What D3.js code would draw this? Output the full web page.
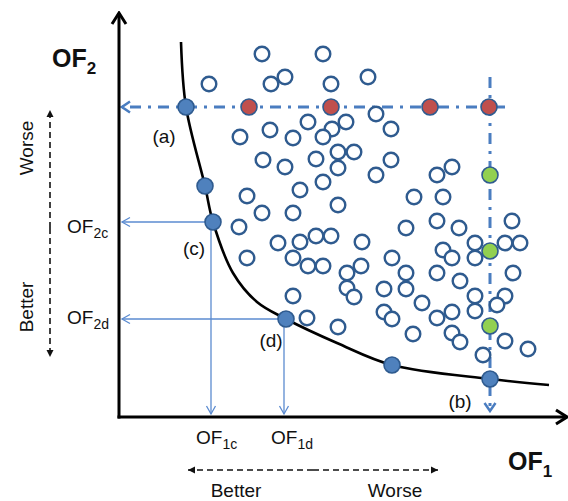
<!DOCTYPE html>
<html>
<head>
<meta charset="utf-8">
<script src="https://cdn.jsdelivr.net/npm/d3@7"></script>
<style>
  body { margin: 0; background: #fff; }
  svg { display: block; font-family: "Liberation Sans", Arial, sans-serif; }
</style>
</head>
<body>
<script>
'use strict';

// objective space values (OF1, OF2)
const dominated = [
  [143,363],[204,363],[90,333],[152,333],[166,340],[212,333],[249,340],
  [121,280],[151,287],[174,279],[189,295],[213,288],[204,280],[227,295],[257,303],[272,288],
  [144,257],[166,250],[197,258],[219,265],[235,265],[219,249],[272,257],[257,242],
  [181,227],[204,235],[128,221],[219,212],[295,220],[318,242],[333,250],[324,220],
  [143,204],[174,204],[120,190],[318,196],[340,189],[287,189],
  [159,174],[181,175],[197,181],[212,181],[243,175],[356,174],[386,174],[401,174],[393,196],
  [128,159],[174,159],[189,151],[204,151],[242,151],[228,144],[273,159],[287,144],
  [228,129],[235,120],[265,128],[287,128],[174,121],[303,114],[265,105],[273,98],
  [188,99],[219,90],[294,83],[324,167],[333,159],[356,159],[318,144],[341,136],[394,144],
  [356,121],[386,121],[378,112],[356,106],[333,105],[318,99],[333,84],[341,75],[386,76],
  [409,68],[364,62]
];
const paretoPoints = [[67,310],[86,231],[94,195],[167,98],[273,52],[371,38]];
const paretoCurve = [[62,375],[67,310],[86,231],[94,195],[114,144],[138,115],[167,98],
  [218,74],[273,52],[371,38],[430,32]];
const redPoints = [[130,310],[212,310],[311,310],[370,310]];
const greenPoints = [[371,242],[371,166],[371,91]];

// labelled solutions
const pointA = [67,310], pointB = [371,38], pointC = [94,195], pointD = [167,98];

// scales
const width = 568, height = 501;
const x = d3.scaleLinear().domain([0, 450]).range([119, 569]);
const y = d3.scaleLinear().domain([0, 405]).range([417, 12]);

const svg = d3.select('body').append('svg')
  .attr('width', width)
  .attr('height', height);

const defs = svg.append('defs');
function vArrow(id, color, w, len, sw) {
  defs.append('marker')
    .attr('id', id)
    .attr('markerUnits', 'userSpaceOnUse')
    .attr('viewBox', `${-len - 2} ${-w - 2} ${len + 4} ${2 * w + 4}`)
    .attr('refX', 0).attr('refY', 0)
    .attr('markerWidth', len + 4).attr('markerHeight', 2 * w + 4)
    .attr('orient', 'auto')
    .append('path')
    .attr('d', `M${-len},${-w}L0,0L${-len},${w}`)
    .attr('fill', 'none')
    .attr('stroke', color)
    .attr('stroke-width', sw)
    .attr('stroke-linejoin', 'miter');
}
function triArrow(id, color) {
  defs.append('marker')
    .attr('id', id)
    .attr('markerUnits', 'userSpaceOnUse')
    .attr('viewBox', '-8 -5 10 10')
    .attr('refX', 0).attr('refY', 0)
    .attr('markerWidth', 10).attr('markerHeight', 10)
    .attr('orient', 'auto')
    .append('path')
    .attr('d', 'M-7,-3.5L0,0L-7,3.5Z')
    .attr('fill', color);
}
vArrow('axisHead', '#000', 7, 11, 3);
vArrow('dashHead', '#4A7DC0', 5.5, 8, 2.5);
vArrow('thinHead', '#5B8BD0', 4.5, 8, 1.3);
triArrow('blackTri', '#111');

// thin guide lines for (c) and (d)
[pointC, pointD].forEach(p => {
  svg.append('line')
    .attr('x1', x(p[0]) - 2).attr('y1', y(p[1]))
    .attr('x2', x(3)).attr('y2', y(p[1]))
    .attr('stroke', '#5B8BD0').attr('stroke-width', 1.3)
    .attr('marker-end', 'url(#thinHead)');
  svg.append('line')
    .attr('x1', x(p[0]) - 2).attr('y1', y(p[1]))
    .attr('x2', x(p[0]) - 2).attr('y2', y(3))
    .attr('stroke', '#5B8BD0').attr('stroke-width', 1.3)
    .attr('marker-end', 'url(#thinHead)');
});

// dash-dot guides through (a) and (b)
svg.append('line')
  .attr('x1', x(386)).attr('y1', y(pointA[1]))
  .attr('x2', x(3)).attr('y2', y(pointA[1]))
  .attr('stroke', '#4A7DC0').attr('stroke-width', 3)
  .attr('stroke-dasharray', '11,7,3,7')
  .attr('marker-end', 'url(#dashHead)');
svg.append('line')
  .attr('x1', x(pointB[0])).attr('y1', y(340))
  .attr('x2', x(pointB[0])).attr('y2', y(6))
  .attr('stroke', '#4A7DC0').attr('stroke-width', 3)
  .attr('stroke-dasharray', '11,7,3,7')
  .attr('marker-end', 'url(#dashHead)');

// pareto front
const line = d3.line()
  .x(d => x(d[0]))
  .y(d => y(d[1]))
  .curve(d3.curveCatmullRom.alpha(0.5));
svg.append('path')
  .attr('d', line(paretoCurve))
  .attr('fill', 'none')
  .attr('stroke', '#000')
  .attr('stroke-width', 2.6);

// dominated solutions
svg.selectAll('.dom')
  .data(dominated)
  .enter()
  .append('circle')
  .attr('class', 'dom')
  .attr('cx', d => x(d[0]))
  .attr('cy', d => y(d[1]))
  .attr('r', 7.3)
  .attr('fill', '#fff')
  .attr('stroke', '#2F5B8F')
  .attr('stroke-width', 2.4);

function filled(data, fill) {
  svg.append('g').selectAll('circle')
    .data(data)
    .enter()
    .append('circle')
    .attr('cx', d => x(d[0]))
    .attr('cy', d => y(d[1]))
    .attr('r', 8)
    .attr('fill', fill)
    .attr('stroke', '#2F5B8F')
    .attr('stroke-width', 1.6);
}
filled(paretoPoints, '#4F81BD');
filled(redPoints, '#C0504D');
filled(greenPoints, '#92D050');

// axes
svg.append('line')
  .attr('x1', x(0)).attr('y1', y(0) + 1.5)
  .attr('x2', x(0)).attr('y2', y(404))
  .attr('stroke', '#000').attr('stroke-width', 3)
  .attr('marker-end', 'url(#axisHead)');
svg.append('line')
  .attr('x1', x(0) - 1.5).attr('y1', y(0))
  .attr('x2', x(448)).attr('y2', y(0))
  .attr('stroke', '#000').attr('stroke-width', 3)
  .attr('marker-end', 'url(#axisHead)');

// axis titles
function label(tx, ty, main, sub, size, subSize, weight, anchor) {
  const t = svg.append('text')
    .attr('x', tx).attr('y', ty)
    .attr('text-anchor', anchor || 'start')
    .style('font-size', size + 'px')
    .style('font-weight', weight || 'normal')
    .attr('fill', '#111');
  t.append('tspan').text(main);
  if (sub) {
    t.append('tspan')
      .attr('dy', size * 0.28)
      .style('font-size', subSize + 'px')
      .text(sub);
  }
  return t;
}
label(52, 67, 'OF', '2', 25, 17, 'bold');
label(508, 470, 'OF', '1', 25, 17, 'bold');

// tick-like labels
label(67, 233, 'OF', '2c', 19, 14);
label(67, 324, 'OF', '2d', 19, 14);
label(196, 444, 'OF', '1c', 19, 14);
label(271, 444, 'OF', '1d', 19, 14);

// point labels
label(164, 143, '(a)', null, 19, 0, 'normal', 'middle');
label(194, 255, '(c)', null, 19, 0, 'normal', 'middle');
label(271, 347, '(d)', null, 19, 0, 'normal', 'middle');
label(460, 408, '(b)', null, 19, 0, 'normal', 'middle');

// better / worse guides
svg.append('line')
  .attr('x1', 50).attr('y1', 228)
  .attr('x2', 50).attr('y2', 110)
  .attr('stroke', '#111').attr('stroke-width', 1.6)
  .attr('stroke-dasharray', '6,4')
  .attr('marker-end', 'url(#blackTri)');
svg.append('line')
  .attr('x1', 50).attr('y1', 228)
  .attr('x2', 50).attr('y2', 357)
  .attr('stroke', '#111').attr('stroke-width', 1.6)
  .attr('stroke-dasharray', '6,4')
  .attr('marker-end', 'url(#blackTri)');
svg.append('line')
  .attr('x1', 313).attr('y1', 470)
  .attr('x2', 188).attr('y2', 470)
  .attr('stroke', '#111').attr('stroke-width', 1.6)
  .attr('stroke-dasharray', '6,4')
  .attr('marker-end', 'url(#blackTri)');
svg.append('line')
  .attr('x1', 313).attr('y1', 470)
  .attr('x2', 438).attr('y2', 470)
  .attr('stroke', '#111').attr('stroke-width', 1.6)
  .attr('stroke-dasharray', '6,4')
  .attr('marker-end', 'url(#blackTri)');

function plainText(tx, ty, txt, rotate) {
  svg.append('text')
    .attr('transform', `translate(${tx},${ty})` + (rotate ? 'rotate(-90)' : ''))
    .attr('text-anchor', 'middle')
    .style('font-size', '19px')
    .attr('fill', '#111')
    .text(txt);
}
plainText(33, 148, 'Worse', true);
plainText(33, 307, 'Better', true);
plainText(236, 497, 'Better', false);
plainText(395, 497, 'Worse', false);
</script>
</body>
</html>
